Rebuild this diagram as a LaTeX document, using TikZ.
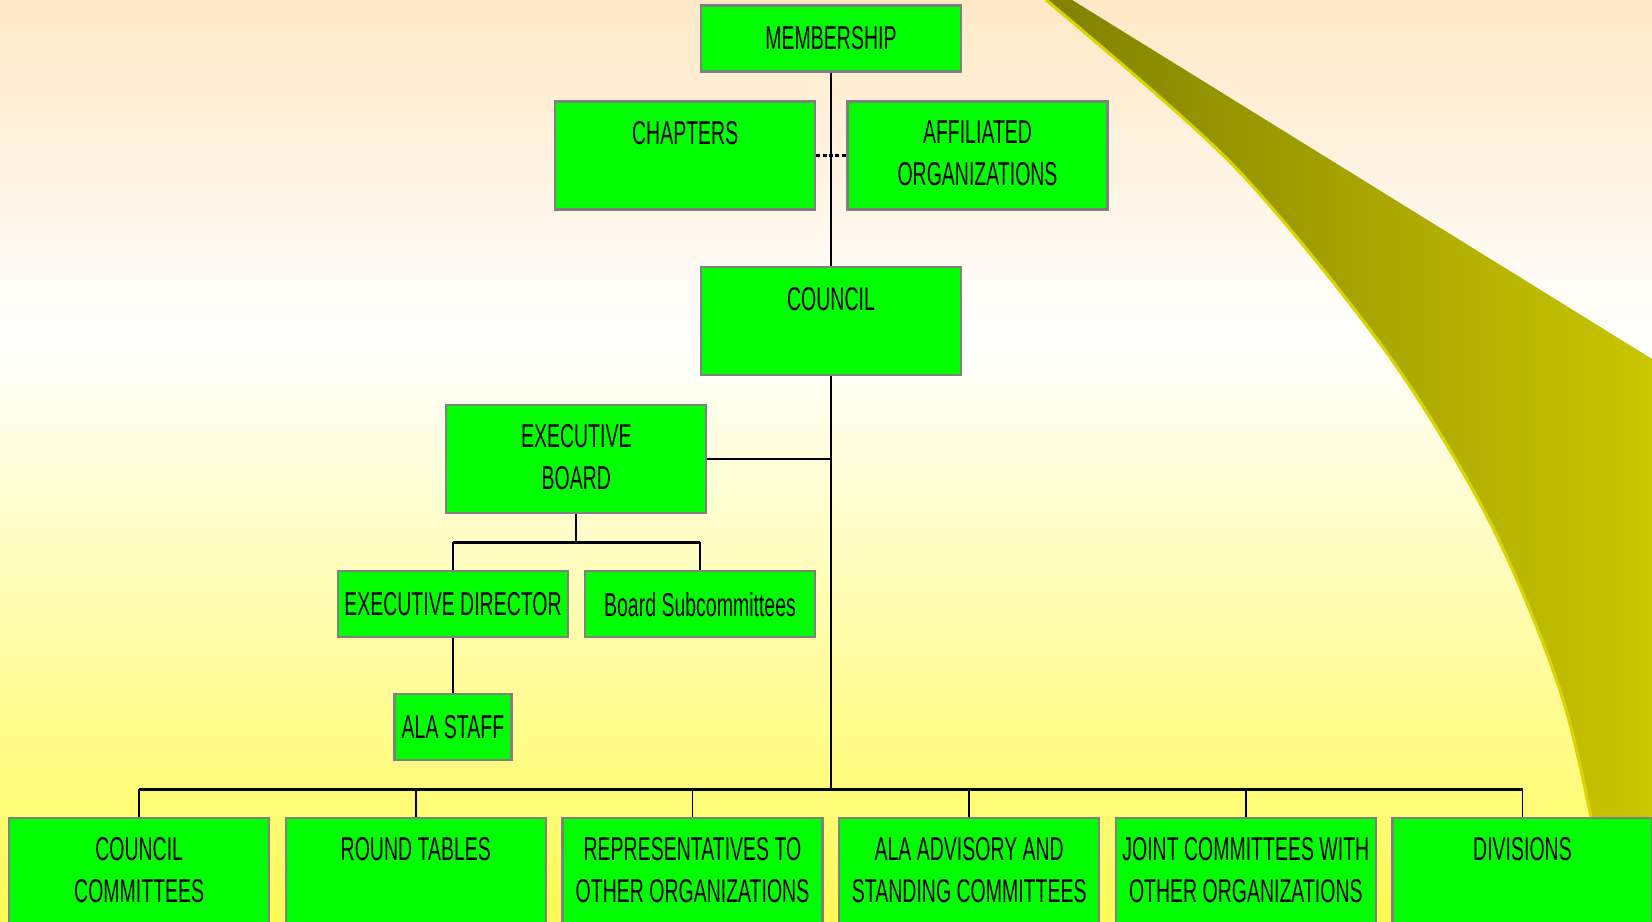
\documentclass[tikz,border=0pt]{standalone}
\usepackage{fontspec}
\usepackage{xcolor}
\usetikzlibrary{positioning}
\newfontfamily\orgfont[FakeStretch=0.59]{Liberation Sans}
\definecolor{peach}{RGB}{255,232,198}
\definecolor{lemon}{RGB}{255,250,84}
\definecolor{boxgreen}{RGB}{0,255,0}
\definecolor{boxedge}{RGB}{128,128,128}
\definecolor{oliveL}{RGB}{128,128,0}
\definecolor{oliveR}{RGB}{202,198,0}
\definecolor{rim}{RGB}{218,212,0}

\begin{document}
\begin{tikzpicture}[
    box/.style={draw=boxedge, line width=0.6pt, fill=boxgreen, inner sep=0pt,
      minimum width=2.60cm, font={\orgfont\fontsize{9.4}{11.95}\selectfont}},
    short/.style={minimum height=0.66cm},
    tall/.style={minimum height=1.08cm},
    hd/.style={anchor=north, inner sep=0pt, align=center,
      font={\orgfont\fontsize{9.4}{11.95}\selectfont}},
    wire/.style={draw=black, line width=0.5pt},
    bus/.style={draw=black, line width=0.85pt}]
    \useasboundingbox (0, 0) rectangle (16.52, -9.22);
    \clip (0, 0) rectangle (16.52, -9.22);

    \shade [top color=peach, bottom color=white] (0, 0.01) rectangle (16.52, -3.4);
    \shade [top color=white, bottom color=lemon] (0, -3.4) rectangle (16.52, -9.22);

    \shade [left color=oliveL, right color=oliveR] (10.46, 0.05) -- (10.64, 0.05)
	-- (16.52, -3.59) -- (16.52, -9.3) -- (16.12, -9.3)
	-- plot [smooth] coordinates {(16.12, -9.22) (15.65, -7.06) (14.91, -5.24) (13.87, -3.53) (12.33, -1.65) (10.46, 0)}
	-- cycle;
    \draw [rim, line width=0.9pt] plot [smooth] coordinates {(16.12, -9.22) (15.65, -7.06) (14.91, -5.24) (13.87, -3.53) (12.33, -1.65) (10.46, 0)};

    \path (8.31, -0.385) node [box, short] (mem) {MEMBERSHIP};
    \path (6.852, -1.555) node [box, tall] (chap) {};
    \path (chap.north) ++(0, -0.2) node [hd] (chapT) {CHAPTERS};
    \path (9.775, -1.555) node [box, tall] (aff) {};
    \path (aff.north) ++(0, -0.2) node [hd] (affT) {AFFILIATED\\ORGANIZATIONS};
    \path (8.31, -3.213) node [box, tall] (coun) {};
    \path (coun.north) ++(0, -0.2) node [hd] (counT) {COUNCIL};
    \path (5.763, -4.59) node [box, tall] (eb) {};
    \path (eb.north) ++(0, -0.2) node [hd] (ebT) {EXECUTIVE\\BOARD};
    \path (4.53, -6.042) node [box, short, minimum width=2.30cm] (ed) {EXECUTIVE DIRECTOR};
    \path (7.00, -6.042) node [box, short, minimum width=2.30cm] (bs) {Board Subcommittees};
    \path (4.53, -7.272) node [box, short, minimum width=1.17cm] (staff) {ALA STAFF};

    \path (1.392, -8.98) node [box, minimum height=1.6cm] (cc) {};
    \path (cc.north) ++(0, -0.2) node [hd] (ccT) {COUNCIL\\COMMITTEES};
    \path (4.158, -8.98) node [box, minimum height=1.6cm] (rt) {};
    \path (rt.north) ++(0, -0.2) node [hd] (rtT) {ROUND TABLES};
    \path (6.925, -8.98) node [box, minimum height=1.6cm] (rep) {};
    \path (rep.north) ++(0, -0.2) node [hd] (repT) {REPRESENTATIVES TO\\OTHER ORGANIZATIONS};
    \path (9.692, -8.98) node [box, minimum height=1.6cm] (adv) {};
    \path (adv.north) ++(0, -0.2) node [hd] (advT) {ALA ADVISORY AND\\STANDING COMMITTEES};
    \path (12.458, -8.98) node [box, minimum height=1.6cm] (jc) {};
    \path (jc.north) ++(0, -0.2) node [hd] (jcT) {JOINT COMMITTEES WITH\\OTHER ORGANIZATIONS};
    \path (15.225, -8.98) node [box, minimum height=1.6cm] (dv) {};
    \path (dv.north) ++(0, -0.2) node [hd] (dvT) {DIVISIONS};

    \coordinate (hub) at (8.31, -7.893);
    \coordinate (ebj) at (5.763, -5.423);

    \draw [wire] (mem.south) -- (coun.north);
    \draw [wire, dash pattern=on 1.2pt off 0.6pt, line width=0.6pt] (chap.east) -- (aff.west);
    \draw [wire] (coun.south) -- (hub);
    \draw [bus] (eb.east) -- (eb.east -| coun.south);

    \draw [wire] (eb.south) -- (ebj);
    \draw [bus] (ed.north |- ebj) -- (bs.north |- ebj);
    \draw [wire] (ed.north |- ebj) -- (ed.north);
    \draw [wire] (bs.north |- ebj) -- (bs.north);
    \draw [wire] (ed.south) -- (staff.north);

    \draw [bus] (cc.north |- hub) -- (dv.north |- hub);
    \draw [wire] (cc.north |- hub) -- (cc.north);
    \draw [wire] (rt.north |- hub) -- (rt.north);
    \draw [wire] (rep.north |- hub) -- (rep.north);
    \draw [wire] (adv.north |- hub) -- (adv.north);
    \draw [wire] (jc.north |- hub) -- (jc.north);
    \draw [wire] (dv.north |- hub) -- (dv.north);
\end{tikzpicture}
\end{document}
